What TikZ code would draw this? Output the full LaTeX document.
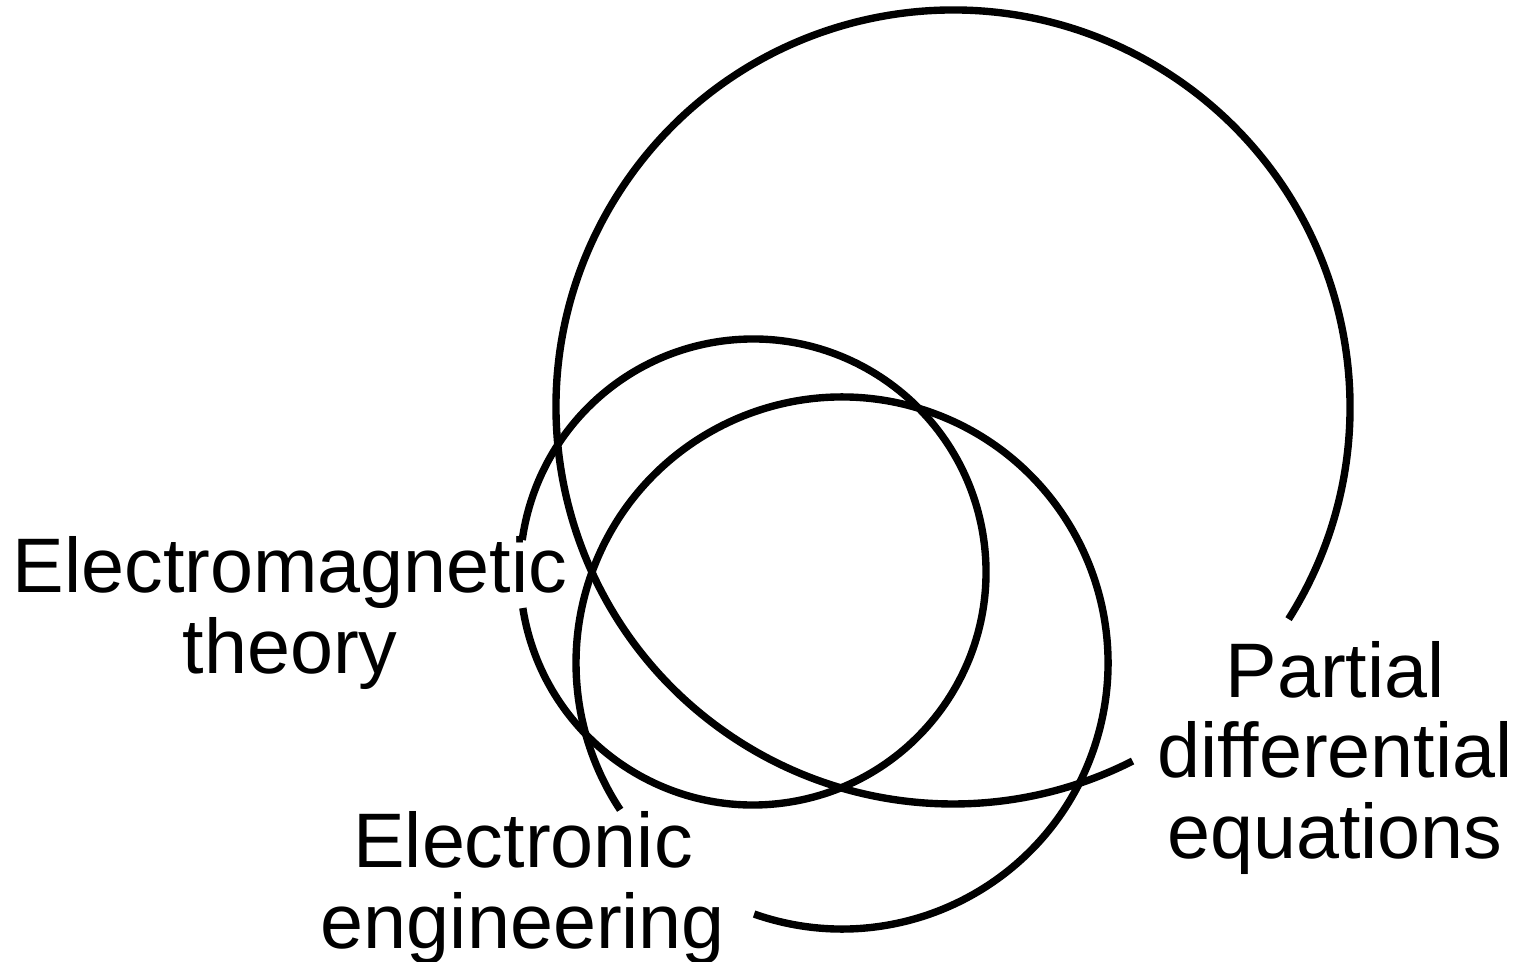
\documentclass[tikz,border=0pt]{standalone}
\usepackage{fontspec}
\setmainfont{Liberation Sans}
\usetikzlibrary{positioning}
\begin{document}
\begin{tikzpicture}[
    ring/.style={line width=2.1pt},
    lbl/.style={align=center, inner sep=0pt, font=\fontsize{22}{23}\selectfont}
  ]
  \useasboundingbox (0,0) rectangle (15.16,9.61);
  % centres of the three circles
  \coordinate (cp) at (9.53,5.54);
  \coordinate (cm) at (7.53,3.89);
  \coordinate (ce) at (8.42,2.98);

  \draw[ring] (cp) ++(-32.3:3.97) arc[start angle=-32.3, end angle=296.9, radius=3.97];
  \draw[ring] (cm) ++(188.9:2.33) arc[start angle=188.9, end angle=532.1, radius=2.33];
  \draw[ring] (ce) ++(250.7:2.66) arc[start angle=250.7, end angle=573.5, radius=2.66];

  \node[lbl] (em) at (2.90,3.48) {Electromagnetic\\theory};
  \node[lbl] (ee) at (5.23,0.73) {Electronic\\engineering};
  \node[lbl] (pde) at (13.35,2.03) {Partial\\differential\\equations};
\end{tikzpicture}
\end{document}
